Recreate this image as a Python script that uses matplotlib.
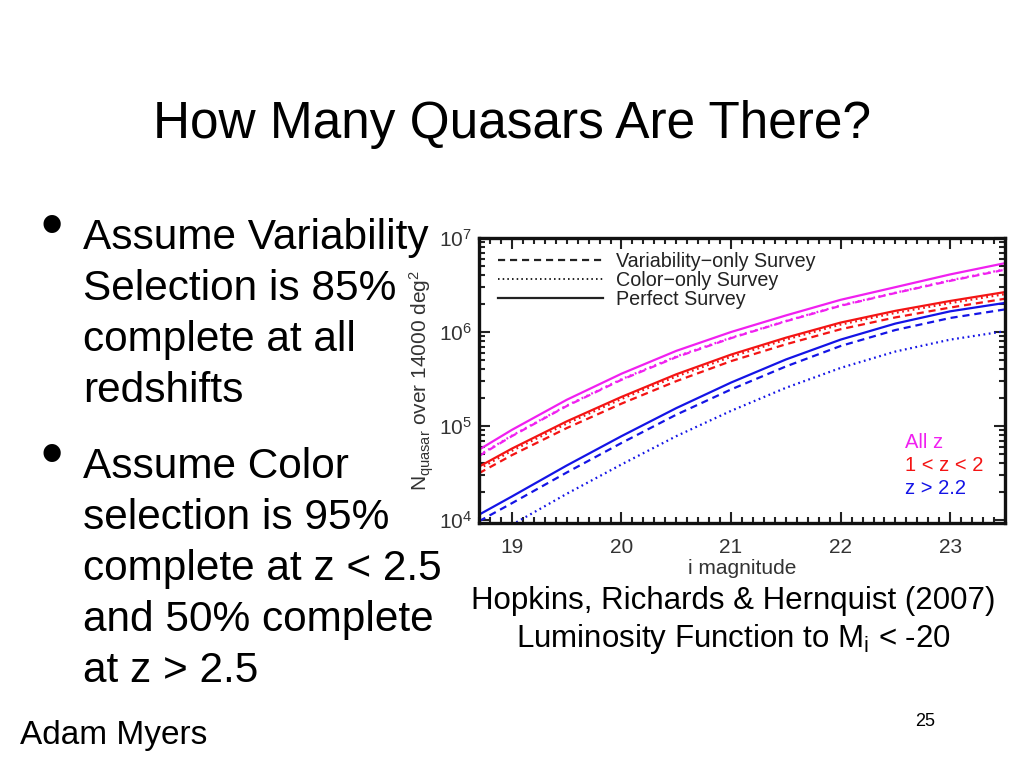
import matplotlib
matplotlib.use("Agg")
import matplotlib.pyplot as plt
from matplotlib.ticker import MultipleLocator, LogLocator, NullFormatter
import numpy as np

plt.rcParams['font.family'] = ['Liberation Sans', 'DejaVu Sans']
plt.rcParams['mathtext.fontset'] = 'custom'
plt.rcParams['mathtext.rm'] = 'Liberation Sans'
plt.rcParams['mathtext.it'] = 'Liberation Sans:italic'

# i magnitude sample points
imag = [18.7, 19.0, 19.5, 20.0, 20.5, 21.0, 21.5, 22.0, 22.5, 23.0, 23.5]

# number of quasars over 14000 deg^2
all_perfect = [5.6e4, 9.1e4, 1.9e5, 3.6e5, 6.3e5, 1.0e6, 1.5e6, 2.2e6, 3.0e6, 4.1e6, 5.4e6]
all_var = [4.8e4, 7.8e4, 1.63e5, 3.1e5, 5.4e5, 8.6e5, 1.3e6, 1.9e6, 2.6e6, 3.5e6, 4.6e6]
all_color = [4.9e4, 7.9e4, 1.65e5, 3.15e5, 5.5e5, 8.7e5, 1.31e6, 1.92e6, 2.62e6, 3.55e6, 4.65e6]

mid_perfect = [3.7e4, 5.75e4, 1.12e5, 2.04e5, 3.55e5, 5.75e5, 8.7e5, 1.26e6, 1.68e6, 2.14e6, 2.66e6]
mid_color = [3.5e4, 5.45e4, 1.06e5, 1.94e5, 3.37e5, 5.45e5, 8.3e5, 1.2e6, 1.6e6, 2.03e6, 2.53e6]
mid_var = [3.15e4, 4.9e4, 9.5e4, 1.73e5, 3.0e5, 4.9e5, 7.4e5, 1.07e6, 1.43e6, 1.82e6, 2.26e6]

hi_perfect = [1.14e4, 1.78e4, 3.8e4, 7.8e4, 1.55e5, 2.9e5, 5.1e5, 8.3e5, 1.23e6, 1.66e6, 2.04e6]
hi_var = [9.7e3, 1.51e4, 3.2e4, 6.6e4, 1.32e5, 2.45e5, 4.3e5, 7.1e5, 1.05e6, 1.41e6, 1.74e6]
hi_color = [5.7e3, 8.9e3, 1.9e4, 3.9e4, 7.8e4, 1.45e5, 2.55e5, 4.15e5, 6.2e5, 8.3e5, 1.02e6]

bullet1 = ["Assume Variability", "Selection is 85%", "complete at all", "redshifts"]
bullet2 = ["Assume Color", "selection is 95%", "complete at z < 2.5",
           "and 50% complete", "at z > 2.5"]

W, H = 1024, 768
fig = plt.figure(figsize=(W / 100, H / 100), dpi=100)


def fx(px):
    return px / W


def fy(py):
    return 1 - py / H


fig.text(0.5, fy(138), "How Many Quasars Are There?", ha='center', va='baseline',
         fontsize=37)

for i, line in enumerate(bullet1):
    fig.text(fx(83), fy(249 + 51 * i), line, fontsize=30.5, va='baseline')
for i, line in enumerate(bullet2):
    fig.text(fx(83), fy(478 + 51 * i), line, fontsize=30.5, va='baseline')
for by in (246, 475):
    fig.text(fx(52), fy(by), "\u2022", fontsize=46, ha='center', va='baseline')

fig.text(fx(733), fy(609), "Hopkins, Richards & Hernquist (2007)", ha='center',
         va='baseline', fontsize=22.5)
fig.text(fx(733), fy(647), r"Luminosity Function to M$_{\rm i}$ < -20", ha='center',
         va='baseline', fontsize=22.5)
fig.text(fx(20), fy(744), "Adam Myers", fontsize=24, va='baseline')
fig.text(fx(925), fy(726), "25", fontsize=13, ha='center', va='baseline')

ax = fig.add_axes([fx(479), fy(523), fx(1005) - fx(479), fy(238) - fy(523)])

magenta = '#f020f0'
red = '#f41414'
blue = '#1414e6'
lw = 1.6
dash = (0, (3.2, 2.2))
dot = (0, (0.8, 1.6))

ax.plot(imag, all_perfect, color=magenta, lw=lw)
ax.plot(imag, all_var, color=magenta, lw=lw, ls=dash)
ax.plot(imag, all_color, color=magenta, lw=lw, ls=dot)
ax.plot(imag, mid_perfect, color=red, lw=lw)
ax.plot(imag, mid_color, color=red, lw=lw, ls=dot)
ax.plot(imag, mid_var, color=red, lw=lw, ls=dash)
ax.plot(imag, hi_perfect, color=blue, lw=lw)
ax.plot(imag, hi_var, color=blue, lw=lw, ls=dash)
ax.plot(imag, hi_color, color=blue, lw=lw, ls=dot)

# legend handles
h1, = ax.plot([], [], color='#222222', lw=1.6, ls=dash)
h2, = ax.plot([], [], color='#222222', lw=1.4, ls=dot)
h3, = ax.plot([], [], color='#222222', lw=1.6)
ax.legend([h1, h2, h3], ["Variability\u2212only Survey", "Color\u2212only Survey",
                         "Perfect Survey"],
          loc='upper left', bbox_to_anchor=(0.01, 1.0), frameon=False,
          fontsize=14.2, handlelength=5.3, handletextpad=0.7, labelspacing=0.0,
          borderaxespad=0.3, labelcolor='#222222')

ax.text(0.81, 0.262, "All z", color=magenta, fontsize=14.5, transform=ax.transAxes)
ax.text(0.81, 0.181, "1 < z < 2", color=red, fontsize=14.5, transform=ax.transAxes)
ax.text(0.81, 0.100, "z > 2.2", color=blue, fontsize=14.5, transform=ax.transAxes)

ax.set_yscale('log')
ax.set_xlim(18.7, 23.5)
ax.set_ylim(9.3e3, 1e7)
ax.xaxis.set_major_locator(MultipleLocator(1))
ax.xaxis.set_minor_locator(MultipleLocator(0.1))
ax.yaxis.set_major_locator(LogLocator(base=10, numticks=10))
ax.yaxis.set_minor_locator(LogLocator(base=10, subs=np.arange(2, 10), numticks=10))
ax.yaxis.set_minor_formatter(NullFormatter())
ax.tick_params(which='both', direction='in', top=True, right=True, width=1.5,
               colors='#222222', labelcolor='#333333')
ax.tick_params(which='major', length=8, labelsize=15)
ax.tick_params(which='minor', length=4)
ax.tick_params(axis='x', which='major', pad=11)
ax.tick_params(axis='y', which='major', pad=5)
for s in ax.spines.values():
    s.set_linewidth(2.4)
    s.set_color('#111111')

ax.set_xlabel("i magnitude", fontsize=15, color='#333333', labelpad=1)
ax.set_ylabel(r"N$_{\rm quasar}$ over 14000 deg$^2$", fontsize=15, color='#333333',
              labelpad=2)

fig.savefig("out.png", dpi=100)
